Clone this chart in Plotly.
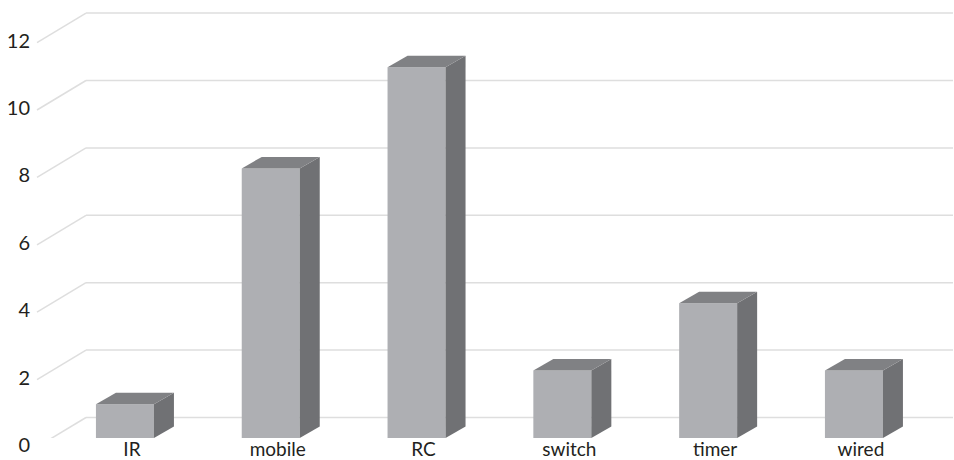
import plotly.graph_objects as go

categories = ["IR", "mobile", "RC", "switch", "timer", "wired"]
values = [1, 8, 11, 2, 4, 2]
y_ticks = [0, 2, 4, 6, 8, 10, 12]

# Pixel scale of the plot and the oblique projection used for the 3D effect
PX_PER_CAT = 145.8
PX_PER_UNIT = 33.7
BAR_W = 58 / PX_PER_CAT
DEPTH_X = 20 / PX_PER_CAT
DEPTH_Y = 11.5 / PX_PER_UNIT
X_START = -0.61
X_END = X_START + (954 - 36) / PX_PER_CAT
Y_END = 438 / PX_PER_UNIT
WALL_X0 = X_START + 1 / PX_PER_CAT
WALL_X1 = WALL_X0 + 49 / PX_PER_CAT
WALL_DROP = 9 / PX_PER_UNIT
WALL_RISE = 20.5 / PX_PER_UNIT

FRONT, SIDE, TOP = "#aeafb3", "#707174", "#808184"
GRID = "#dedede"
INK = "#231f20"

fig = go.Figure()

fig.add_trace(go.Bar(
    x=list(range(len(categories))), y=values, width=BAR_W,
    marker=dict(color=FRONT, line=dict(width=0)),
    showlegend=False, hoverinfo="x+y",
))

# Side and top faces of each bar, projected back from the front face
for i, v in enumerate(values):
    left, right = i - BAR_W / 2, i + BAR_W / 2
    fig.add_trace(go.Scatter(
        x=[right, right + DEPTH_X, right + DEPTH_X, right, right],
        y=[0, DEPTH_Y, v + DEPTH_Y, v, 0],
        mode="lines", fill="toself", fillcolor=SIDE,
        line=dict(width=0), showlegend=False, hoverinfo="skip",
    ))
    fig.add_trace(go.Scatter(
        x=[left, right, right + DEPTH_X, left + DEPTH_X, left],
        y=[v, v, v + DEPTH_Y, v + DEPTH_Y, v],
        mode="lines", fill="toself", fillcolor=TOP,
        line=dict(width=0), showlegend=False, hoverinfo="skip",
    ))

# Back-wall gridlines with their slanted floor segment
shapes = []
for t in y_ticks:
    for x0, y0, x1, y1 in [
        (WALL_X0, t - WALL_DROP, WALL_X1, t + WALL_RISE),
        (WALL_X1, t + WALL_RISE, X_END - 1 / PX_PER_CAT, t + WALL_RISE),
    ]:
        shapes.append(dict(
            type="line", layer="below", xref="x", yref="y",
            x0=x0, y0=y0, x1=x1, y1=y1,
            line=dict(color=GRID, width=1.5),
        ))

fig.update_layout(
    width=954, height=460,
    margin=dict(l=36, r=0, t=0, b=22),
    paper_bgcolor="white", plot_bgcolor="white",
    font=dict(family="Lato", color=INK, size=19),
    shapes=shapes, showlegend=False,
    xaxis=dict(
        range=[X_START, X_END], tickmode="array",
        tickvals=list(range(len(categories))), ticktext=categories,
        ticklabelshift=7, ticklabelstandoff=-2, automargin=False,
        showgrid=False, zeroline=False, showline=False, ticks="",
        tickfont=dict(size=19),
    ),
    yaxis=dict(
        range=[0, Y_END], tickmode="array", tickvals=y_ticks,
        ticklabelshift=7, ticklabelstandoff=5, automargin=False,
        showgrid=False, zeroline=False, showline=False, ticks="",
        tickfont=dict(size=20),
    ),
)

fig.write_html("out.html", config=dict(displayModeBar=False))
